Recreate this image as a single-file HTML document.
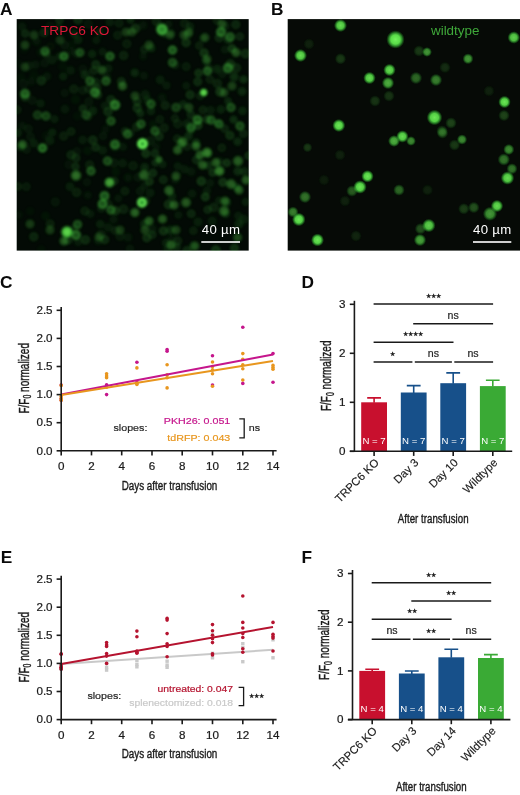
<!DOCTYPE html>
<html><head><meta charset="utf-8"><title>Figure</title>
<style>
html,body{margin:0;padding:0;background:#fff;}
svg{display:block}
text{font-family:"Liberation Sans", sans-serif;}
</style></head><body>
<svg width="520" height="795" viewBox="0 0 520 795">
<defs>
<radialGradient id="gs"><stop offset="0" stop-color="#72f25c" stop-opacity="1"/><stop offset="0.5" stop-color="#5be24a" stop-opacity="0.97"/><stop offset="0.72" stop-color="#3cb838" stop-opacity="0.7"/><stop offset="1" stop-color="#1a7a1a" stop-opacity="0"/></radialGradient>
<radialGradient id="gr"><stop offset="0" stop-color="#3dbb3a" stop-opacity="0.85"/><stop offset="0.4" stop-color="#46cc42" stop-opacity="0.92"/><stop offset="0.62" stop-color="#58e64e" stop-opacity="1"/><stop offset="0.82" stop-color="#2a9a28" stop-opacity="0.5"/><stop offset="1" stop-color="#1a7a1a" stop-opacity="0"/></radialGradient>
<radialGradient id="gb"><stop offset="0" stop-color="#239028" stop-opacity="1"/><stop offset="0.14" stop-color="#2fa832" stop-opacity="1"/><stop offset="0.34" stop-color="#5de84f" stop-opacity="1"/><stop offset="0.62" stop-color="#6cf25a" stop-opacity="1"/><stop offset="0.8" stop-color="#36b234" stop-opacity="0.6"/><stop offset="1" stop-color="#1a7a1a" stop-opacity="0"/></radialGradient>
<radialGradient id="gd"><stop offset="0" stop-color="#3cc83c" stop-opacity="0.9"/><stop offset="0.6" stop-color="#36b836" stop-opacity="0.8"/><stop offset="1" stop-color="#1a7a1a" stop-opacity="0"/></radialGradient>
<clipPath id="ca"><rect x="16.7" y="19.1" width="232" height="231.5"/></clipPath>
<clipPath id="cb"><rect x="287.7" y="19.1" width="232.3" height="231.5"/></clipPath>
<filter id="bl" x="-20%" y="-20%" width="140%" height="140%"><feGaussianBlur stdDeviation="0.9"/></filter>
<filter id="bl2" x="-20%" y="-20%" width="140%" height="140%"><feGaussianBlur stdDeviation="0.7"/></filter>
</defs>
<rect width="520" height="795" fill="#fff"/>

<text x="0" y="14.5" font-size="17.3" font-weight="bold" fill="#0a0a0a">A</text>
<text x="270.9" y="14.5" font-size="17.3" font-weight="bold" fill="#0a0a0a">B</text>
<text x="0.1" y="288" font-size="17.3" font-weight="bold" fill="#0a0a0a">C</text>
<text x="301.5" y="287.8" font-size="17.3" font-weight="bold" fill="#0a0a0a">D</text>
<text x="0.7" y="563" font-size="17.3" font-weight="bold" fill="#0a0a0a">E</text>
<text x="301.5" y="563" font-size="17.3" font-weight="bold" fill="#0a0a0a">F</text>
<rect x="16.7" y="19.1" width="232" height="231.5" fill="#030a05"/>
<g clip-path="url(#ca)"><g filter="url(#bl)">
<circle cx="92.1" cy="54.0" r="5.5" fill="url(#gd)" opacity="0.17"/>
<circle cx="33.8" cy="143.3" r="5.6" fill="url(#gd)" opacity="0.14"/>
<circle cx="30.5" cy="136.7" r="5.5" fill="url(#gr)" opacity="0.07"/>
<circle cx="117.6" cy="35.2" r="5.7" fill="url(#gr)" opacity="0.10"/>
<circle cx="115.5" cy="210.8" r="5.7" fill="url(#gr)" opacity="0.18"/>
<circle cx="68.8" cy="164.6" r="5.8" fill="url(#gr)" opacity="0.05"/>
<circle cx="150.9" cy="111.0" r="5.6" fill="url(#gd)" opacity="0.15"/>
<circle cx="50.5" cy="46.3" r="5.7" fill="url(#gr)" opacity="0.04"/>
<circle cx="206.3" cy="60.9" r="5.6" fill="url(#gd)" opacity="0.21"/>
<circle cx="165.2" cy="105.4" r="5.7" fill="url(#gr)" opacity="0.13"/>
<circle cx="174.9" cy="118.2" r="5.2" fill="url(#gr)" opacity="0.11"/>
<circle cx="152.9" cy="124.1" r="5.3" fill="url(#gd)" opacity="0.07"/>
<circle cx="201.3" cy="181.2" r="5.9" fill="url(#gr)" opacity="0.21"/>
<circle cx="150.3" cy="140.8" r="5.8" fill="url(#gr)" opacity="0.09"/>
<circle cx="186.2" cy="85.8" r="5.3" fill="url(#gd)" opacity="0.11"/>
<circle cx="44.4" cy="116.0" r="5.8" fill="url(#gd)" opacity="0.04"/>
<circle cx="52.3" cy="132.4" r="5.3" fill="url(#gd)" opacity="0.15"/>
<circle cx="172.0" cy="196.4" r="5.6" fill="url(#gd)" opacity="0.16"/>
<circle cx="220.1" cy="91.8" r="6.0" fill="url(#gr)" opacity="0.21"/>
<circle cx="154.9" cy="153.5" r="5.2" fill="url(#gr)" opacity="0.16"/>
<circle cx="171.1" cy="33.1" r="5.3" fill="url(#gd)" opacity="0.16"/>
<circle cx="167.1" cy="249.4" r="5.3" fill="url(#gd)" opacity="0.12"/>
<circle cx="83.0" cy="108.5" r="5.2" fill="url(#gr)" opacity="0.16"/>
<circle cx="22.2" cy="126.1" r="5.6" fill="url(#gd)" opacity="0.08"/>
<circle cx="44.2" cy="32.7" r="5.8" fill="url(#gr)" opacity="0.13"/>
<circle cx="47.0" cy="76.4" r="5.7" fill="url(#gd)" opacity="0.09"/>
<circle cx="219.2" cy="37.7" r="5.8" fill="url(#gr)" opacity="0.15"/>
<circle cx="144.5" cy="223.9" r="5.7" fill="url(#gd)" opacity="0.19"/>
<circle cx="217.4" cy="83.6" r="6.0" fill="url(#gr)" opacity="0.13"/>
<circle cx="100.2" cy="224.1" r="5.5" fill="url(#gd)" opacity="0.15"/>
<circle cx="52.0" cy="59.9" r="5.9" fill="url(#gd)" opacity="0.12"/>
<circle cx="71.1" cy="131.5" r="5.5" fill="url(#gr)" opacity="0.12"/>
<circle cx="78.0" cy="19.9" r="5.7" fill="url(#gr)" opacity="0.16"/>
<circle cx="102.7" cy="150.4" r="5.8" fill="url(#gd)" opacity="0.13"/>
<circle cx="177.2" cy="138.6" r="5.4" fill="url(#gr)" opacity="0.12"/>
<circle cx="198.0" cy="221.9" r="5.9" fill="url(#gd)" opacity="0.14"/>
<circle cx="108.0" cy="111.6" r="5.9" fill="url(#gr)" opacity="0.17"/>
<circle cx="164.2" cy="33.4" r="5.7" fill="url(#gd)" opacity="0.18"/>
<circle cx="65.4" cy="56.7" r="5.8" fill="url(#gd)" opacity="0.08"/>
<circle cx="40.5" cy="103.4" r="5.5" fill="url(#gd)" opacity="0.13"/>
<circle cx="219.8" cy="161.5" r="5.8" fill="url(#gd)" opacity="0.10"/>
<circle cx="75.5" cy="99.6" r="5.9" fill="url(#gd)" opacity="0.07"/>
<circle cx="45.5" cy="216.0" r="5.7" fill="url(#gd)" opacity="0.07"/>
<circle cx="125.1" cy="131.2" r="5.4" fill="url(#gr)" opacity="0.12"/>
<circle cx="237.6" cy="141.6" r="5.6" fill="url(#gd)" opacity="0.19"/>
<circle cx="143.0" cy="25.3" r="5.8" fill="url(#gd)" opacity="0.08"/>
<circle cx="244.0" cy="219.3" r="5.9" fill="url(#gd)" opacity="0.13"/>
<circle cx="196.1" cy="142.6" r="5.6" fill="url(#gd)" opacity="0.20"/>
<circle cx="93.5" cy="70.7" r="5.4" fill="url(#gr)" opacity="0.13"/>
<circle cx="206.9" cy="190.7" r="5.5" fill="url(#gd)" opacity="0.11"/>
<circle cx="137.1" cy="101.5" r="5.6" fill="url(#gr)" opacity="0.14"/>
<circle cx="23.5" cy="83.8" r="6.0" fill="url(#gr)" opacity="0.05"/>
<circle cx="177.7" cy="240.9" r="5.7" fill="url(#gr)" opacity="0.13"/>
<circle cx="234.4" cy="248.2" r="5.7" fill="url(#gr)" opacity="0.20"/>
<circle cx="101.6" cy="70.1" r="5.2" fill="url(#gd)" opacity="0.10"/>
<circle cx="62.6" cy="66.4" r="5.9" fill="url(#gd)" opacity="0.05"/>
<circle cx="225.9" cy="214.0" r="5.4" fill="url(#gd)" opacity="0.16"/>
<circle cx="168.5" cy="204.5" r="6.0" fill="url(#gr)" opacity="0.18"/>
<circle cx="170.3" cy="230.1" r="6.0" fill="url(#gd)" opacity="0.18"/>
<circle cx="191.0" cy="129.9" r="5.4" fill="url(#gr)" opacity="0.12"/>
<circle cx="200.1" cy="96.1" r="5.2" fill="url(#gr)" opacity="0.11"/>
<circle cx="242.4" cy="110.8" r="5.6" fill="url(#gd)" opacity="0.17"/>
<circle cx="236.7" cy="187.2" r="5.3" fill="url(#gd)" opacity="0.22"/>
<circle cx="46.5" cy="54.1" r="5.3" fill="url(#gr)" opacity="0.12"/>
<circle cx="204.1" cy="52.9" r="5.7" fill="url(#gr)" opacity="0.21"/>
<circle cx="244.4" cy="171.5" r="5.7" fill="url(#gd)" opacity="0.18"/>
<circle cx="144.3" cy="49.4" r="5.3" fill="url(#gr)" opacity="0.12"/>
<circle cx="233.6" cy="119.6" r="5.4" fill="url(#gd)" opacity="0.22"/>
<circle cx="208.7" cy="68.0" r="5.5" fill="url(#gr)" opacity="0.09"/>
<circle cx="85.0" cy="74.8" r="5.9" fill="url(#gd)" opacity="0.17"/>
<circle cx="77.2" cy="116.2" r="5.8" fill="url(#gd)" opacity="0.05"/>
<circle cx="228.1" cy="101.1" r="5.2" fill="url(#gd)" opacity="0.18"/>
<circle cx="152.3" cy="228.8" r="6.0" fill="url(#gd)" opacity="0.09"/>
<circle cx="229.9" cy="135.4" r="5.7" fill="url(#gr)" opacity="0.18"/>
<circle cx="59.5" cy="19.9" r="5.5" fill="url(#gr)" opacity="0.14"/>
<circle cx="145.9" cy="201.0" r="5.6" fill="url(#gr)" opacity="0.10"/>
<circle cx="193.3" cy="230.7" r="5.3" fill="url(#gr)" opacity="0.11"/>
<circle cx="159.1" cy="136.3" r="5.8" fill="url(#gr)" opacity="0.16"/>
<circle cx="177.7" cy="123.9" r="5.9" fill="url(#gr)" opacity="0.10"/>
<circle cx="127.9" cy="237.4" r="5.9" fill="url(#gd)" opacity="0.09"/>
<circle cx="146.8" cy="237.8" r="5.6" fill="url(#gr)" opacity="0.18"/>
<circle cx="33.8" cy="74.8" r="5.9" fill="url(#gd)" opacity="0.05"/>
<circle cx="50.2" cy="223.8" r="5.5" fill="url(#gr)" opacity="0.12"/>
<circle cx="67.9" cy="240.0" r="5.7" fill="url(#gr)" opacity="0.15"/>
<circle cx="130.0" cy="248.7" r="5.2" fill="url(#gr)" opacity="0.08"/>
<circle cx="54.5" cy="119.1" r="5.3" fill="url(#gd)" opacity="0.13"/>
<circle cx="95.7" cy="64.4" r="5.5" fill="url(#gr)" opacity="0.17"/>
<circle cx="184.5" cy="23.5" r="5.9" fill="url(#gr)" opacity="0.10"/>
<circle cx="119.2" cy="23.2" r="5.6" fill="url(#gr)" opacity="0.10"/>
<circle cx="245.5" cy="201.9" r="5.3" fill="url(#gd)" opacity="0.14"/>
<circle cx="41.3" cy="80.6" r="5.9" fill="url(#gr)" opacity="0.16"/>
<circle cx="197.7" cy="81.7" r="5.6" fill="url(#gr)" opacity="0.17"/>
<circle cx="115.0" cy="230.4" r="5.4" fill="url(#gr)" opacity="0.10"/>
<circle cx="77.0" cy="53.7" r="6.0" fill="url(#gd)" opacity="0.10"/>
<circle cx="149.4" cy="181.5" r="5.4" fill="url(#gr)" opacity="0.19"/>
<circle cx="33.8" cy="236.7" r="5.8" fill="url(#gr)" opacity="0.15"/>
<circle cx="203.0" cy="38.4" r="5.2" fill="url(#gd)" opacity="0.12"/>
<circle cx="95.7" cy="147.3" r="5.3" fill="url(#gr)" opacity="0.16"/>
<circle cx="72.3" cy="44.4" r="5.6" fill="url(#gd)" opacity="0.05"/>
<circle cx="28.7" cy="65.8" r="5.9" fill="url(#gr)" opacity="0.06"/>
<circle cx="87.8" cy="195.2" r="5.3" fill="url(#gd)" opacity="0.08"/>
<circle cx="21.2" cy="77.1" r="5.8" fill="url(#gd)" opacity="0.05"/>
<circle cx="187.1" cy="146.8" r="5.3" fill="url(#gr)" opacity="0.11"/>
<circle cx="207.0" cy="119.3" r="5.4" fill="url(#gr)" opacity="0.17"/>
<circle cx="210.6" cy="110.2" r="5.8" fill="url(#gd)" opacity="0.12"/>
<circle cx="176.6" cy="246.9" r="5.4" fill="url(#gd)" opacity="0.18"/>
<circle cx="210.1" cy="183.0" r="5.5" fill="url(#gd)" opacity="0.10"/>
<circle cx="110.9" cy="99.6" r="5.8" fill="url(#gr)" opacity="0.15"/>
<circle cx="212.2" cy="221.0" r="5.9" fill="url(#gd)" opacity="0.13"/>
<circle cx="123.6" cy="55.5" r="5.9" fill="url(#gr)" opacity="0.13"/>
<circle cx="78.1" cy="242.1" r="5.4" fill="url(#gd)" opacity="0.11"/>
<circle cx="143.9" cy="75.7" r="5.5" fill="url(#gd)" opacity="0.09"/>
<circle cx="88.8" cy="101.7" r="5.7" fill="url(#gr)" opacity="0.07"/>
<circle cx="105.5" cy="129.1" r="5.6" fill="url(#gd)" opacity="0.06"/>
<circle cx="63.6" cy="136.1" r="5.8" fill="url(#gr)" opacity="0.11"/>
<circle cx="78.3" cy="39.8" r="5.5" fill="url(#gd)" opacity="0.15"/>
<circle cx="71.0" cy="154.9" r="5.8" fill="url(#gr)" opacity="0.14"/>
<circle cx="191.1" cy="171.6" r="6.0" fill="url(#gd)" opacity="0.09"/>
<circle cx="220.9" cy="109.4" r="5.6" fill="url(#gd)" opacity="0.16"/>
<circle cx="245.5" cy="53.7" r="6.0" fill="url(#gr)" opacity="0.17"/>
<circle cx="134.0" cy="212.7" r="5.3" fill="url(#gr)" opacity="0.09"/>
<circle cx="208.7" cy="154.5" r="5.2" fill="url(#gd)" opacity="0.12"/>
<circle cx="175.4" cy="179.9" r="5.4" fill="url(#gd)" opacity="0.09"/>
<circle cx="24.2" cy="49.9" r="5.7" fill="url(#gd)" opacity="0.03"/>
<circle cx="162.6" cy="164.3" r="5.3" fill="url(#gd)" opacity="0.14"/>
<circle cx="130.5" cy="19.8" r="5.2" fill="url(#gd)" opacity="0.18"/>
<circle cx="186.2" cy="66.6" r="5.6" fill="url(#gr)" opacity="0.10"/>
<circle cx="243.4" cy="133.6" r="5.5" fill="url(#gr)" opacity="0.13"/>
<circle cx="128.1" cy="177.6" r="5.9" fill="url(#gd)" opacity="0.08"/>
<circle cx="87.6" cy="150.7" r="5.8" fill="url(#gd)" opacity="0.07"/>
<circle cx="31.1" cy="81.4" r="6.0" fill="url(#gd)" opacity="0.06"/>
<circle cx="136.8" cy="126.8" r="5.9" fill="url(#gr)" opacity="0.12"/>
<circle cx="123.5" cy="209.2" r="6.0" fill="url(#gr)" opacity="0.13"/>
<circle cx="121.3" cy="81.3" r="5.4" fill="url(#gr)" opacity="0.16"/>
<circle cx="236.4" cy="67.9" r="6.0" fill="url(#gr)" opacity="0.14"/>
<circle cx="49.9" cy="140.6" r="5.9" fill="url(#gd)" opacity="0.14"/>
<circle cx="222.8" cy="182.2" r="5.6" fill="url(#gr)" opacity="0.20"/>
<circle cx="17.8" cy="133.1" r="5.4" fill="url(#gd)" opacity="0.15"/>
<circle cx="90.3" cy="213.9" r="5.5" fill="url(#gd)" opacity="0.11"/>
<circle cx="191.2" cy="213.7" r="5.5" fill="url(#gr)" opacity="0.15"/>
<circle cx="248.7" cy="155.7" r="5.3" fill="url(#gr)" opacity="0.17"/>
<circle cx="234.1" cy="76.8" r="5.9" fill="url(#gd)" opacity="0.22"/>
<circle cx="238.8" cy="224.1" r="5.9" fill="url(#gd)" opacity="0.18"/>
<circle cx="163.4" cy="230.9" r="5.7" fill="url(#gr)" opacity="0.19"/>
<circle cx="144.4" cy="185.9" r="5.4" fill="url(#gd)" opacity="0.10"/>
<circle cx="186.9" cy="123.6" r="5.7" fill="url(#gd)" opacity="0.15"/>
<circle cx="166.5" cy="85.4" r="5.5" fill="url(#gd)" opacity="0.11"/>
<circle cx="232.0" cy="48.5" r="5.4" fill="url(#gr)" opacity="0.22"/>
<circle cx="96.7" cy="88.1" r="5.7" fill="url(#gr)" opacity="0.14"/>
<circle cx="243.5" cy="79.4" r="5.4" fill="url(#gd)" opacity="0.22"/>
<circle cx="96.3" cy="40.1" r="5.3" fill="url(#gd)" opacity="0.11"/>
<circle cx="76.9" cy="151.2" r="5.4" fill="url(#gr)" opacity="0.06"/>
<circle cx="190.9" cy="114.8" r="5.4" fill="url(#gr)" opacity="0.14"/>
<circle cx="46.2" cy="135.8" r="5.9" fill="url(#gd)" opacity="0.05"/>
<circle cx="217.2" cy="69.1" r="5.7" fill="url(#gd)" opacity="0.17"/>
<circle cx="238.3" cy="215.9" r="5.6" fill="url(#gd)" opacity="0.12"/>
<circle cx="22.1" cy="26.5" r="5.6" fill="url(#gd)" opacity="0.10"/>
<circle cx="224.8" cy="128.8" r="5.4" fill="url(#gr)" opacity="0.13"/>
<circle cx="17.0" cy="109.8" r="5.7" fill="url(#gr)" opacity="0.10"/>
<circle cx="138.2" cy="177.2" r="5.9" fill="url(#gr)" opacity="0.07"/>
<circle cx="184.4" cy="169.2" r="5.6" fill="url(#gd)" opacity="0.11"/>
<circle cx="123.1" cy="146.9" r="5.4" fill="url(#gd)" opacity="0.10"/>
<circle cx="198.5" cy="73.0" r="5.3" fill="url(#gr)" opacity="0.19"/>
<circle cx="75.4" cy="166.6" r="5.2" fill="url(#gr)" opacity="0.16"/>
<circle cx="156.4" cy="21.4" r="5.8" fill="url(#gr)" opacity="0.12"/>
<circle cx="88.3" cy="24.1" r="6.0" fill="url(#gr)" opacity="0.07"/>
<circle cx="24.9" cy="97.4" r="5.5" fill="url(#gr)" opacity="0.13"/>
<circle cx="175.4" cy="65.0" r="5.7" fill="url(#gd)" opacity="0.12"/>
<circle cx="188.5" cy="136.1" r="5.6" fill="url(#gd)" opacity="0.19"/>
<circle cx="242.0" cy="91.3" r="5.8" fill="url(#gd)" opacity="0.19"/>
<circle cx="70.5" cy="70.4" r="5.8" fill="url(#gd)" opacity="0.11"/>
<circle cx="85.4" cy="239.8" r="5.9" fill="url(#gr)" opacity="0.17"/>
<circle cx="171.3" cy="239.1" r="5.7" fill="url(#gd)" opacity="0.08"/>
<circle cx="108.3" cy="68.4" r="5.7" fill="url(#gd)" opacity="0.12"/>
<circle cx="108.3" cy="227.4" r="5.9" fill="url(#gd)" opacity="0.11"/>
<circle cx="187.0" cy="250.4" r="5.6" fill="url(#gr)" opacity="0.16"/>
<circle cx="190.1" cy="26.4" r="5.4" fill="url(#gd)" opacity="0.14"/>
<circle cx="104.8" cy="105.7" r="5.5" fill="url(#gd)" opacity="0.11"/>
<circle cx="98.5" cy="240.7" r="5.9" fill="url(#gd)" opacity="0.10"/>
<circle cx="207.6" cy="209.7" r="5.3" fill="url(#gr)" opacity="0.15"/>
<circle cx="28.4" cy="128.8" r="5.7" fill="url(#gr)" opacity="0.07"/>
<circle cx="230.3" cy="63.8" r="5.9" fill="url(#gr)" opacity="0.17"/>
<circle cx="225.1" cy="26.0" r="5.9" fill="url(#gd)" opacity="0.13"/>
<circle cx="205.3" cy="196.9" r="5.5" fill="url(#gr)" opacity="0.21"/>
<circle cx="25.1" cy="33.5" r="5.2" fill="url(#gr)" opacity="0.15"/>
<circle cx="76.6" cy="192.4" r="5.9" fill="url(#gr)" opacity="0.12"/>
<circle cx="95.7" cy="82.2" r="6.0" fill="url(#gd)" opacity="0.15"/>
<circle cx="160.1" cy="79.8" r="5.7" fill="url(#gd)" opacity="0.14"/>
<circle cx="235.8" cy="24.6" r="5.7" fill="url(#gr)" opacity="0.15"/>
<circle cx="106.7" cy="77.2" r="5.7" fill="url(#gd)" opacity="0.10"/>
<circle cx="196.3" cy="159.9" r="5.5" fill="url(#gr)" opacity="0.15"/>
<circle cx="35.3" cy="64.8" r="5.7" fill="url(#gd)" opacity="0.09"/>
<circle cx="74.4" cy="34.0" r="5.6" fill="url(#gd)" opacity="0.16"/>
<circle cx="145.2" cy="94.6" r="6.0" fill="url(#gd)" opacity="0.13"/>
<circle cx="36.5" cy="41.4" r="5.9" fill="url(#gd)" opacity="0.08"/>
<circle cx="113.7" cy="162.9" r="6.0" fill="url(#gr)" opacity="0.08"/>
<circle cx="63.2" cy="76.4" r="5.3" fill="url(#gd)" opacity="0.15"/>
<circle cx="92.7" cy="110.9" r="5.9" fill="url(#gd)" opacity="0.17"/>
<circle cx="134.7" cy="72.7" r="5.5" fill="url(#gd)" opacity="0.19"/>
<circle cx="44.7" cy="63.0" r="5.6" fill="url(#gr)" opacity="0.06"/>
<circle cx="152.3" cy="234.8" r="5.3" fill="url(#gr)" opacity="0.14"/>
<circle cx="217.9" cy="123.2" r="5.5" fill="url(#gd)" opacity="0.17"/>
<circle cx="155.3" cy="162.8" r="5.2" fill="url(#gd)" opacity="0.20"/>
<circle cx="102.5" cy="51.8" r="5.4" fill="url(#gd)" opacity="0.11"/>
<circle cx="76.1" cy="158.1" r="5.4" fill="url(#gr)" opacity="0.14"/>
<circle cx="144.6" cy="167.3" r="5.7" fill="url(#gd)" opacity="0.18"/>
<circle cx="82.7" cy="90.4" r="5.6" fill="url(#gr)" opacity="0.08"/>
<circle cx="113.6" cy="219.5" r="5.6" fill="url(#gd)" opacity="0.09"/>
<circle cx="20.4" cy="147.0" r="5.5" fill="url(#gd)" opacity="0.16"/>
<circle cx="228.1" cy="39.7" r="5.8" fill="url(#gr)" opacity="0.11"/>
<circle cx="103.0" cy="136.0" r="5.3" fill="url(#gr)" opacity="0.07"/>
<circle cx="82.7" cy="139.9" r="5.7" fill="url(#gd)" opacity="0.12"/>
<circle cx="226.8" cy="162.9" r="5.2" fill="url(#gr)" opacity="0.20"/>
<circle cx="137.2" cy="108.0" r="5.8" fill="url(#gr)" opacity="0.17"/>
<circle cx="26.5" cy="149.5" r="5.4" fill="url(#gr)" opacity="0.08"/>
<circle cx="156.1" cy="146.6" r="5.7" fill="url(#gd)" opacity="0.08"/>
<circle cx="88.0" cy="116.5" r="5.5" fill="url(#gr)" opacity="0.10"/>
<circle cx="115.8" cy="171.9" r="5.7" fill="url(#gd)" opacity="0.07"/>
<circle cx="198.0" cy="125.3" r="5.7" fill="url(#gr)" opacity="0.21"/>
<circle cx="126.8" cy="43.8" r="5.9" fill="url(#gr)" opacity="0.10"/>
<circle cx="135.4" cy="28.5" r="5.9" fill="url(#gr)" opacity="0.18"/>
<circle cx="104.7" cy="239.6" r="5.7" fill="url(#gr)" opacity="0.16"/>
<circle cx="215.8" cy="250.1" r="6.0" fill="url(#gr)" opacity="0.21"/>
<circle cx="55.3" cy="201.9" r="5.8" fill="url(#gr)" opacity="0.07"/>
<circle cx="32.2" cy="100.4" r="5.9" fill="url(#gr)" opacity="0.06"/>
<circle cx="59.2" cy="56.4" r="5.4" fill="url(#gd)" opacity="0.11"/>
<circle cx="199.1" cy="45.7" r="5.3" fill="url(#gr)" opacity="0.11"/>
<circle cx="145.8" cy="153.6" r="5.6" fill="url(#gr)" opacity="0.20"/>
<circle cx="41.3" cy="249.4" r="5.5" fill="url(#gd)" opacity="0.05"/>
<circle cx="108.5" cy="204.1" r="5.3" fill="url(#gr)" opacity="0.11"/>
<circle cx="152.9" cy="173.0" r="5.4" fill="url(#gr)" opacity="0.18"/>
<circle cx="159.9" cy="119.3" r="5.4" fill="url(#gr)" opacity="0.10"/>
<circle cx="224.8" cy="49.6" r="5.5" fill="url(#gd)" opacity="0.10"/>
<circle cx="168.5" cy="24.2" r="5.3" fill="url(#gd)" opacity="0.10"/>
<circle cx="219.1" cy="200.5" r="5.3" fill="url(#gd)" opacity="0.13"/>
<circle cx="147.5" cy="100.3" r="5.8" fill="url(#gd)" opacity="0.13"/>
<circle cx="120.0" cy="236.4" r="5.8" fill="url(#gr)" opacity="0.08"/>
<circle cx="74.7" cy="228.6" r="5.4" fill="url(#gd)" opacity="0.10"/>
<circle cx="140.3" cy="113.2" r="5.4" fill="url(#gd)" opacity="0.19"/>
<circle cx="88.8" cy="88.7" r="5.8" fill="url(#gr)" opacity="0.11"/>
<circle cx="18.5" cy="214.9" r="5.7" fill="url(#gd)" opacity="0.06"/>
<circle cx="124.9" cy="191.1" r="5.7" fill="url(#gr)" opacity="0.11"/>
<circle cx="178.3" cy="215.1" r="5.3" fill="url(#gd)" opacity="0.11"/>
<circle cx="165.9" cy="242.9" r="5.4" fill="url(#gd)" opacity="0.14"/>
<circle cx="190.1" cy="94.8" r="5.7" fill="url(#gr)" opacity="0.18"/>
<circle cx="163.3" cy="179.7" r="5.5" fill="url(#gr)" opacity="0.15"/>
<circle cx="49.9" cy="25.7" r="5.9" fill="url(#gr)" opacity="0.05"/>
<circle cx="177.7" cy="166.1" r="5.3" fill="url(#gd)" opacity="0.12"/>
<circle cx="187.9" cy="34.3" r="5.6" fill="url(#gr)" opacity="0.15"/>
<circle cx="101.3" cy="208.7" r="5.4" fill="url(#gr)" opacity="0.09"/>
<circle cx="64.7" cy="45.0" r="5.8" fill="url(#gr)" opacity="0.07"/>
<circle cx="213.7" cy="207.4" r="5.9" fill="url(#gr)" opacity="0.13"/>
<circle cx="208.4" cy="165.5" r="5.9" fill="url(#gd)" opacity="0.19"/>
<circle cx="64.6" cy="93.0" r="5.2" fill="url(#gr)" opacity="0.06"/>
<circle cx="183.1" cy="104.4" r="5.5" fill="url(#gd)" opacity="0.17"/>
<circle cx="160.4" cy="26.2" r="5.8" fill="url(#gd)" opacity="0.13"/>
<circle cx="118.3" cy="198.3" r="5.5" fill="url(#gd)" opacity="0.09"/>
<circle cx="180.5" cy="143.8" r="5.3" fill="url(#gr)" opacity="0.16"/>
<circle cx="193.8" cy="245.9" r="5.8" fill="url(#gd)" opacity="0.20"/>
<circle cx="130.9" cy="133.0" r="5.3" fill="url(#gr)" opacity="0.07"/>
<circle cx="210.0" cy="79.5" r="5.5" fill="url(#gr)" opacity="0.11"/>
<circle cx="82.8" cy="68.8" r="5.7" fill="url(#gr)" opacity="0.05"/>
<circle cx="192.0" cy="193.7" r="5.7" fill="url(#gd)" opacity="0.11"/>
<circle cx="97.8" cy="94.8" r="5.5" fill="url(#gr)" opacity="0.15"/>
<circle cx="212.6" cy="172.6" r="5.2" fill="url(#gr)" opacity="0.18"/>
<circle cx="151.4" cy="48.2" r="5.4" fill="url(#gd)" opacity="0.18"/>
<circle cx="222.3" cy="74.2" r="5.7" fill="url(#gd)" opacity="0.10"/>
<circle cx="86.9" cy="182.1" r="5.3" fill="url(#gr)" opacity="0.06"/>
<circle cx="92.8" cy="140.1" r="5.9" fill="url(#gr)" opacity="0.16"/>
<circle cx="186.1" cy="42.6" r="5.8" fill="url(#gr)" opacity="0.18"/>
<circle cx="64.9" cy="109.1" r="5.9" fill="url(#gd)" opacity="0.10"/>
<circle cx="133.1" cy="165.7" r="6.0" fill="url(#gr)" opacity="0.10"/>
<circle cx="150.2" cy="192.8" r="5.8" fill="url(#gd)" opacity="0.13"/>
<circle cx="70.0" cy="186.6" r="5.7" fill="url(#gd)" opacity="0.14"/>
<circle cx="89.6" cy="164.8" r="5.8" fill="url(#gr)" opacity="0.11"/>
<circle cx="122.6" cy="163.2" r="5.9" fill="url(#gd)" opacity="0.12"/>
<circle cx="143.1" cy="56.3" r="5.2" fill="url(#gd)" opacity="0.08"/>
<circle cx="99.5" cy="32.1" r="5.4" fill="url(#gd)" opacity="0.15"/>
<circle cx="109.7" cy="22.1" r="5.7" fill="url(#gd)" opacity="0.13"/>
<circle cx="114.6" cy="181.0" r="5.2" fill="url(#gr)" opacity="0.13"/>
<circle cx="202.9" cy="109.9" r="5.4" fill="url(#gr)" opacity="0.13"/>
<circle cx="164.2" cy="127.8" r="5.8" fill="url(#gr)" opacity="0.11"/>
<circle cx="17.6" cy="186.5" r="5.4" fill="url(#gr)" opacity="0.12"/>
<circle cx="73.8" cy="89.0" r="5.9" fill="url(#gr)" opacity="0.11"/>
<circle cx="101.1" cy="234.5" r="5.9" fill="url(#gr)" opacity="0.10"/>
<circle cx="30.2" cy="211.1" r="5.5" fill="url(#gd)" opacity="0.05"/>
<circle cx="237.8" cy="171.2" r="5.8" fill="url(#gd)" opacity="0.20"/>
<circle cx="40.6" cy="52.1" r="5.7" fill="url(#gd)" opacity="0.06"/>
<circle cx="226.7" cy="202.7" r="5.9" fill="url(#gd)" opacity="0.15"/>
<circle cx="140.1" cy="191.1" r="5.5" fill="url(#gr)" opacity="0.08"/>
<circle cx="221.8" cy="147.8" r="5.4" fill="url(#gr)" opacity="0.12"/>
<circle cx="71.3" cy="51.3" r="5.6" fill="url(#gd)" opacity="0.07"/>
<circle cx="217.2" cy="20.5" r="5.6" fill="url(#gr)" opacity="0.11"/>
<circle cx="239.9" cy="36.5" r="5.3" fill="url(#gr)" opacity="0.14"/>
<circle cx="162.1" cy="97.6" r="5.8" fill="url(#gd)" opacity="0.08"/>
<circle cx="115.0" cy="147.5" r="6.0" fill="url(#gd)" opacity="0.07"/>
<circle cx="84.9" cy="211.0" r="5.6" fill="url(#gr)" opacity="0.12"/>
<circle cx="26.3" cy="186.7" r="5.6" fill="url(#gr)" opacity="0.09"/>
<circle cx="18.4" cy="63.1" r="5.7" fill="url(#gd)" opacity="0.03"/>
<circle cx="59.1" cy="27.6" r="5.7" fill="url(#gd)" opacity="0.12"/>
<circle cx="45" cy="51.3" r="5.85" fill="url(#gr)" opacity="0.36"/>
<circle cx="63.8" cy="56.3" r="5.85" fill="url(#gr)" opacity="0.40"/>
<circle cx="80" cy="52.5" r="5.59" fill="url(#gr)" opacity="0.32"/>
<circle cx="110" cy="56.3" r="5.85" fill="url(#gr)" opacity="0.40"/>
<circle cx="25" cy="45" r="5.85" fill="url(#gs)" opacity="0.22"/>
<circle cx="34" cy="35" r="5.85" fill="url(#gs)" opacity="0.20"/>
<circle cx="90" cy="81" r="5.85" fill="url(#gr)" opacity="0.34"/>
<circle cx="106" cy="81" r="5.85" fill="url(#gr)" opacity="0.34"/>
<circle cx="95" cy="92.5" r="6.24" fill="url(#gr)" opacity="0.44"/>
<circle cx="122.5" cy="86" r="5.85" fill="url(#gs)" opacity="0.34"/>
<circle cx="25" cy="93.8" r="6.24" fill="url(#gr)" opacity="0.44"/>
<circle cx="115" cy="105" r="6.50" fill="url(#gr)" opacity="0.52"/>
<circle cx="37.5" cy="115" r="5.85" fill="url(#gr)" opacity="0.24"/>
<circle cx="46" cy="116" r="5.85" fill="url(#gr)" opacity="0.28"/>
<circle cx="86" cy="115" r="5.85" fill="url(#gr)" opacity="0.24"/>
<circle cx="111" cy="121" r="5.85" fill="url(#gr)" opacity="0.34"/>
<circle cx="102" cy="70" r="5.85" fill="url(#gs)" opacity="0.22"/>
<circle cx="25" cy="67" r="5.85" fill="url(#gs)" opacity="0.20"/>
<circle cx="126" cy="32" r="5.85" fill="url(#gs)" opacity="0.22"/>
<circle cx="60" cy="40" r="5.85" fill="url(#gs)" opacity="0.18"/>
<circle cx="162" cy="29.5" r="7.15" fill="url(#gr)" opacity="0.71"/>
<circle cx="221" cy="32" r="6.24" fill="url(#gr)" opacity="0.44"/>
<circle cx="230" cy="37" r="6.24" fill="url(#gr)" opacity="0.36"/>
<circle cx="172.5" cy="50" r="5.85" fill="url(#gr)" opacity="0.44"/>
<circle cx="172.5" cy="62.5" r="5.85" fill="url(#gr)" opacity="0.32"/>
<circle cx="207.5" cy="71" r="5.85" fill="url(#gr)" opacity="0.36"/>
<circle cx="228" cy="68" r="6.50" fill="url(#gr)" opacity="0.44"/>
<circle cx="203.7" cy="92.5" r="4.94" fill="url(#gs)" opacity="0.90"/>
<circle cx="236" cy="52.5" r="5.85" fill="url(#gs)" opacity="0.32"/>
<circle cx="222" cy="24" r="5.85" fill="url(#gs)" opacity="0.24"/>
<circle cx="205" cy="37.5" r="5.85" fill="url(#gs)" opacity="0.24"/>
<circle cx="184" cy="35" r="5.85" fill="url(#gs)" opacity="0.24"/>
<circle cx="189" cy="32" r="5.85" fill="url(#gs)" opacity="0.22"/>
<circle cx="151" cy="104" r="5.85" fill="url(#gr)" opacity="0.34"/>
<circle cx="197.5" cy="120" r="6.24" fill="url(#gr)" opacity="0.44"/>
<circle cx="191" cy="127.5" r="5.85" fill="url(#gr)" opacity="0.34"/>
<circle cx="211" cy="120" r="5.85" fill="url(#gr)" opacity="0.34"/>
<circle cx="219" cy="124" r="5.85" fill="url(#gr)" opacity="0.32"/>
<circle cx="231" cy="107.5" r="5.85" fill="url(#gr)" opacity="0.34"/>
<circle cx="240" cy="126" r="5.85" fill="url(#gr)" opacity="0.34"/>
<circle cx="176" cy="107.5" r="5.85" fill="url(#gr)" opacity="0.28"/>
<circle cx="189" cy="107.5" r="5.85" fill="url(#gs)" opacity="0.24"/>
<circle cx="141" cy="124" r="5.85" fill="url(#gr)" opacity="0.34"/>
<circle cx="155" cy="131" r="5.85" fill="url(#gr)" opacity="0.34"/>
<circle cx="135" cy="96" r="5.85" fill="url(#gs)" opacity="0.24"/>
<circle cx="149" cy="45" r="5.85" fill="url(#gs)" opacity="0.24"/>
<circle cx="170" cy="35" r="5.85" fill="url(#gs)" opacity="0.24"/>
<circle cx="132" cy="32" r="5.85" fill="url(#gs)" opacity="0.22"/>
<circle cx="207" cy="59" r="5.85" fill="url(#gs)" opacity="0.22"/>
<circle cx="224" cy="92.5" r="5.85" fill="url(#gs)" opacity="0.24"/>
<circle cx="232" cy="86" r="5.85" fill="url(#gs)" opacity="0.24"/>
<circle cx="42.5" cy="148" r="5.85" fill="url(#gr)" opacity="0.48"/>
<circle cx="22.5" cy="144.5" r="5.85" fill="url(#gs)" opacity="0.34"/>
<circle cx="115" cy="144.5" r="6.24" fill="url(#gr)" opacity="0.44"/>
<circle cx="127.5" cy="134" r="5.85" fill="url(#gr)" opacity="0.34"/>
<circle cx="107.5" cy="161" r="5.85" fill="url(#gr)" opacity="0.34"/>
<circle cx="91" cy="171" r="5.85" fill="url(#gr)" opacity="0.36"/>
<circle cx="76" cy="175.5" r="6.50" fill="url(#gs)" opacity="0.44"/>
<circle cx="109.5" cy="182.5" r="6.24" fill="url(#gs)" opacity="0.66"/>
<circle cx="104.5" cy="196" r="6.24" fill="url(#gr)" opacity="0.44"/>
<circle cx="102.5" cy="204" r="6.24" fill="url(#gr)" opacity="0.44"/>
<circle cx="111" cy="210" r="5.85" fill="url(#gr)" opacity="0.34"/>
<circle cx="67" cy="232" r="7.15" fill="url(#gs)" opacity="0.90"/>
<circle cx="76" cy="235" r="6.24" fill="url(#gr)" opacity="0.44"/>
<circle cx="77.5" cy="224.5" r="5.85" fill="url(#gr)" opacity="0.34"/>
<circle cx="30" cy="224" r="5.85" fill="url(#gs)" opacity="0.22"/>
<circle cx="50" cy="230" r="5.85" fill="url(#gs)" opacity="0.22"/>
<circle cx="64" cy="241" r="5.85" fill="url(#gs)" opacity="0.34"/>
<circle cx="120" cy="230" r="5.85" fill="url(#gs)" opacity="0.22"/>
<circle cx="99" cy="237" r="5.85" fill="url(#gs)" opacity="0.22"/>
<circle cx="142.5" cy="143.8" r="6.89" fill="url(#gb)" opacity="0.95"/>
<circle cx="142" cy="202.5" r="6.50" fill="url(#gb)" opacity="0.85"/>
<circle cx="207" cy="152.5" r="6.24" fill="url(#gs)" opacity="0.48"/>
<circle cx="219.5" cy="171" r="6.24" fill="url(#gs)" opacity="0.48"/>
<circle cx="182.5" cy="142" r="6.24" fill="url(#gs)" opacity="0.38"/>
<circle cx="238" cy="161" r="6.50" fill="url(#gs)" opacity="0.36"/>
<circle cx="196" cy="146" r="5.85" fill="url(#gs)" opacity="0.34"/>
<circle cx="200" cy="155" r="5.85" fill="url(#gs)" opacity="0.34"/>
<circle cx="159" cy="159.5" r="4.55" fill="url(#gs)" opacity="0.36"/>
<circle cx="144" cy="175" r="6.50" fill="url(#gs)" opacity="0.36"/>
<circle cx="169" cy="190.5" r="6.24" fill="url(#gs)" opacity="0.36"/>
<circle cx="231" cy="184" r="6.24" fill="url(#gs)" opacity="0.36"/>
<circle cx="239" cy="190" r="5.85" fill="url(#gs)" opacity="0.34"/>
<circle cx="246" cy="180" r="5.85" fill="url(#gs)" opacity="0.34"/>
<circle cx="224" cy="211" r="6.50" fill="url(#gs)" opacity="0.36"/>
<circle cx="225" cy="201" r="5.85" fill="url(#gs)" opacity="0.32"/>
<circle cx="186" cy="202.5" r="6.24" fill="url(#gs)" opacity="0.34"/>
<circle cx="174" cy="205" r="5.85" fill="url(#gs)" opacity="0.34"/>
<circle cx="162.5" cy="219" r="5.85" fill="url(#gs)" opacity="0.34"/>
<circle cx="149" cy="221" r="5.85" fill="url(#gs)" opacity="0.34"/>
<circle cx="135" cy="212.5" r="5.85" fill="url(#gs)" opacity="0.34"/>
<circle cx="145" cy="230" r="5.85" fill="url(#gs)" opacity="0.24"/>
<circle cx="176" cy="230" r="5.85" fill="url(#gs)" opacity="0.24"/>
<circle cx="171" cy="245" r="5.85" fill="url(#gs)" opacity="0.32"/>
<circle cx="177.5" cy="150" r="5.85" fill="url(#gs)" opacity="0.34"/>
<circle cx="216" cy="162.5" r="5.85" fill="url(#gs)" opacity="0.34"/>
<circle cx="202.5" cy="165" r="5.85" fill="url(#gs)" opacity="0.34"/>
<circle cx="176" cy="176" r="5.85" fill="url(#gs)" opacity="0.28"/>
<circle cx="195" cy="246" r="5.85" fill="url(#gs)" opacity="0.22"/>
<circle cx="237.5" cy="237.5" r="5.85" fill="url(#gs)" opacity="0.28"/>
</g></g>
<text x="41" y="34.5" font-size="13.7" fill="#dc1838">TRPC6 KO</text>
<rect x="201.3" y="241.2" width="38.7" height="1.6" fill="#fff"/>
<text x="221" y="233.8" font-size="13.2" fill="#fff" text-anchor="middle" letter-spacing="0.3">40 µm</text>
<rect x="287.7" y="19.1" width="232.3" height="231.5" fill="#060a06"/>
<g clip-path="url(#cb)"><g filter="url(#bl2)">
<circle cx="340.5" cy="25.5" r="6.65" fill="url(#gs)" opacity="0.90"/>
<circle cx="395.5" cy="39.5" r="9.31" fill="url(#gs)" opacity="1.00"/>
<circle cx="300.5" cy="55.5" r="6.65" fill="url(#gs)" opacity="0.90"/>
<circle cx="389.5" cy="70" r="6.38" fill="url(#gs)" opacity="0.90"/>
<circle cx="369.5" cy="78" r="6.38" fill="url(#gs)" opacity="0.90"/>
<circle cx="388" cy="83" r="6.38" fill="url(#gs)" opacity="0.70"/>
<circle cx="338.8" cy="125.5" r="6.65" fill="url(#gs)" opacity="0.95"/>
<circle cx="340.5" cy="58.8" r="5.99" fill="url(#gs)" opacity="0.20"/>
<circle cx="375" cy="101" r="5.99" fill="url(#gs)" opacity="0.18"/>
<circle cx="309" cy="44" r="5.99" fill="url(#gs)" opacity="0.10"/>
<circle cx="389" cy="96" r="5.99" fill="url(#gs)" opacity="0.18"/>
<circle cx="513.8" cy="37.5" r="6.38" fill="url(#gs)" opacity="0.85"/>
<circle cx="427" cy="52" r="5.05" fill="url(#gs)" opacity="0.60"/>
<circle cx="468" cy="58.8" r="5.59" fill="url(#gs)" opacity="0.60"/>
<circle cx="436" cy="80" r="6.38" fill="url(#gs)" opacity="0.50"/>
<circle cx="416" cy="78" r="6.38" fill="url(#gs)" opacity="0.40"/>
<circle cx="445" cy="67.5" r="5.99" fill="url(#gs)" opacity="0.15"/>
<circle cx="504.5" cy="102" r="6.38" fill="url(#gs)" opacity="0.95"/>
<circle cx="434.5" cy="117.5" r="7.98" fill="url(#gs)" opacity="0.95"/>
<circle cx="504" cy="115.5" r="5.99" fill="url(#gs)" opacity="0.25"/>
<circle cx="451" cy="123" r="5.99" fill="url(#gs)" opacity="0.25"/>
<circle cx="442" cy="131" r="5.99" fill="url(#gs)" opacity="0.25"/>
<circle cx="489" cy="91" r="5.99" fill="url(#gs)" opacity="0.10"/>
<circle cx="419" cy="51" r="5.99" fill="url(#gs)" opacity="0.20"/>
<circle cx="367.5" cy="176.3" r="6.38" fill="url(#gs)" opacity="0.95"/>
<circle cx="360" cy="187" r="6.92" fill="url(#gs)" opacity="0.95"/>
<circle cx="352" cy="191" r="5.99" fill="url(#gs)" opacity="0.35"/>
<circle cx="305" cy="197" r="6.38" fill="url(#gs)" opacity="0.45"/>
<circle cx="293" cy="212" r="5.72" fill="url(#gs)" opacity="0.50"/>
<circle cx="298.8" cy="219.5" r="6.92" fill="url(#gs)" opacity="0.95"/>
<circle cx="317.5" cy="240" r="6.65" fill="url(#gs)" opacity="0.95"/>
<circle cx="307.5" cy="147.5" r="5.05" fill="url(#gs)" opacity="0.20"/>
<circle cx="340" cy="155" r="5.99" fill="url(#gs)" opacity="0.10"/>
<circle cx="399" cy="190" r="5.99" fill="url(#gs)" opacity="0.40"/>
<circle cx="356" cy="236" r="5.99" fill="url(#gs)" opacity="0.12"/>
<circle cx="324" cy="180" r="5.99" fill="url(#gs)" opacity="0.08"/>
<circle cx="345" cy="201" r="5.99" fill="url(#gs)" opacity="0.10"/>
<circle cx="402.4" cy="136.5" r="6.38" fill="url(#gs)" opacity="0.90"/>
<circle cx="394" cy="141" r="6.12" fill="url(#gs)" opacity="0.70"/>
<circle cx="411" cy="141" r="5.05" fill="url(#gs)" opacity="0.55"/>
<circle cx="462" cy="139.5" r="5.32" fill="url(#gs)" opacity="0.55"/>
<circle cx="442.5" cy="133" r="5.99" fill="url(#gs)" opacity="0.30"/>
<circle cx="454.5" cy="145" r="5.99" fill="url(#gs)" opacity="0.20"/>
<circle cx="508.8" cy="149.5" r="5.72" fill="url(#gs)" opacity="0.55"/>
<circle cx="503.8" cy="159.5" r="6.38" fill="url(#gs)" opacity="0.45"/>
<circle cx="512" cy="168.8" r="5.72" fill="url(#gs)" opacity="0.45"/>
<circle cx="507.5" cy="178" r="6.92" fill="url(#gs)" opacity="0.90"/>
<circle cx="497" cy="206" r="6.38" fill="url(#gs)" opacity="0.90"/>
<circle cx="490" cy="213.8" r="7.32" fill="url(#gs)" opacity="0.60"/>
<circle cx="473.8" cy="207.5" r="5.99" fill="url(#gs)" opacity="0.30"/>
<circle cx="463.8" cy="208.8" r="5.99" fill="url(#gs)" opacity="0.22"/>
<circle cx="428.8" cy="225.5" r="6.92" fill="url(#gs)" opacity="0.85"/>
<circle cx="420.5" cy="228.8" r="5.99" fill="url(#gs)" opacity="0.30"/>
<circle cx="420" cy="240" r="6.38" fill="url(#gs)" opacity="0.65"/>
<circle cx="427.5" cy="190" r="5.99" fill="url(#gs)" opacity="0.10"/>
</g></g>
<text x="431" y="35" font-size="13.4" fill="#3fa83a">wildtype</text>
<rect x="473" y="241.2" width="38.3" height="1.6" fill="#fff"/>
<text x="492.3" y="233.8" font-size="13.2" fill="#fff" text-anchor="middle" letter-spacing="0.3">40 µm</text>
<circle cx="61.2" cy="385.0" r="1.8" fill="#c5168c"/>
<circle cx="61.2" cy="398.5" r="1.8" fill="#c5168c"/>
<circle cx="61.2" cy="400.2" r="1.8" fill="#c5168c"/>
<circle cx="106.6" cy="384.8" r="1.8" fill="#c5168c"/>
<circle cx="106.6" cy="394.6" r="1.8" fill="#c5168c"/>
<circle cx="136.9" cy="362.3" r="1.8" fill="#c5168c"/>
<circle cx="136.9" cy="382.2" r="1.8" fill="#c5168c"/>
<circle cx="167.1" cy="349.6" r="1.8" fill="#c5168c"/>
<circle cx="167.1" cy="351.3" r="1.8" fill="#c5168c"/>
<circle cx="212.5" cy="355.8" r="1.8" fill="#c5168c"/>
<circle cx="212.5" cy="385.0" r="1.8" fill="#c5168c"/>
<circle cx="242.8" cy="327.2" r="1.8" fill="#c5168c"/>
<circle cx="242.8" cy="383.4" r="1.8" fill="#c5168c"/>
<circle cx="273.0" cy="353.6" r="1.8" fill="#c5168c"/>
<circle cx="273.0" cy="382.2" r="1.8" fill="#c5168c"/>
<circle cx="61.2" cy="385.4" r="1.8" fill="#e8961e"/>
<circle cx="61.2" cy="396.3" r="1.8" fill="#e8961e"/>
<circle cx="61.2" cy="398.5" r="1.8" fill="#e8961e"/>
<circle cx="61.2" cy="400.2" r="1.8" fill="#e8961e"/>
<circle cx="106.6" cy="373.8" r="1.8" fill="#e8961e"/>
<circle cx="106.6" cy="376.1" r="1.8" fill="#e8961e"/>
<circle cx="106.6" cy="377.7" r="1.8" fill="#e8961e"/>
<circle cx="106.6" cy="387.3" r="1.8" fill="#e8961e"/>
<circle cx="136.9" cy="367.9" r="1.8" fill="#e8961e"/>
<circle cx="136.9" cy="383.4" r="1.8" fill="#e8961e"/>
<circle cx="136.9" cy="384.5" r="1.8" fill="#e8961e"/>
<circle cx="167.1" cy="364.8" r="1.8" fill="#e8961e"/>
<circle cx="167.1" cy="374.9" r="1.8" fill="#e8961e"/>
<circle cx="167.1" cy="377.7" r="1.8" fill="#e8961e"/>
<circle cx="167.1" cy="387.9" r="1.8" fill="#e8961e"/>
<circle cx="212.5" cy="362.0" r="1.8" fill="#e8961e"/>
<circle cx="212.5" cy="366.5" r="1.8" fill="#e8961e"/>
<circle cx="212.5" cy="369.9" r="1.8" fill="#e8961e"/>
<circle cx="212.5" cy="373.8" r="1.8" fill="#e8961e"/>
<circle cx="212.5" cy="386.2" r="1.8" fill="#e8961e"/>
<circle cx="242.8" cy="353.6" r="1.8" fill="#e8961e"/>
<circle cx="242.8" cy="359.2" r="1.8" fill="#e8961e"/>
<circle cx="242.8" cy="364.8" r="1.8" fill="#e8961e"/>
<circle cx="242.8" cy="368.7" r="1.8" fill="#e8961e"/>
<circle cx="242.8" cy="380.0" r="1.8" fill="#e8961e"/>
<circle cx="273.0" cy="365.4" r="1.8" fill="#e8961e"/>
<circle cx="273.0" cy="367.6" r="1.8" fill="#e8961e"/>
<circle cx="273.0" cy="369.3" r="1.8" fill="#e8961e"/>
<line x1="61.2" y1="394.6" x2="273.0" y2="354.5" stroke="#c5168c" stroke-width="2"/>
<line x1="61.2" y1="394.9" x2="273.0" y2="361.0" stroke="#e8961e" stroke-width="2"/>
<path d="M61.2 306.9V450.8H276.6" fill="none" stroke="#1a1a1a" stroke-width="1.6"/>
<line x1="56.6" y1="450.8" x2="61.2" y2="450.8" stroke="#1a1a1a" stroke-width="1.6"/>
<text transform="translate(52.6 454.5) scale(1.12 1)" font-size="10.4" fill="#1a1a1a" text-anchor="end" stroke="#1a1a1a" stroke-width="0.2">0.0</text>
<line x1="56.6" y1="422.7" x2="61.2" y2="422.7" stroke="#1a1a1a" stroke-width="1.6"/>
<text transform="translate(52.6 426.4) scale(1.12 1)" font-size="10.4" fill="#1a1a1a" text-anchor="end" stroke="#1a1a1a" stroke-width="0.2">0.5</text>
<line x1="56.6" y1="394.6" x2="61.2" y2="394.6" stroke="#1a1a1a" stroke-width="1.6"/>
<text transform="translate(52.6 398.3) scale(1.12 1)" font-size="10.4" fill="#1a1a1a" text-anchor="end" stroke="#1a1a1a" stroke-width="0.2">1.0</text>
<line x1="56.6" y1="366.5" x2="61.2" y2="366.5" stroke="#1a1a1a" stroke-width="1.6"/>
<text transform="translate(52.6 370.2) scale(1.12 1)" font-size="10.4" fill="#1a1a1a" text-anchor="end" stroke="#1a1a1a" stroke-width="0.2">1.5</text>
<line x1="56.6" y1="338.4" x2="61.2" y2="338.4" stroke="#1a1a1a" stroke-width="1.6"/>
<text transform="translate(52.6 342.1) scale(1.12 1)" font-size="10.4" fill="#1a1a1a" text-anchor="end" stroke="#1a1a1a" stroke-width="0.2">2.0</text>
<line x1="56.6" y1="310.3" x2="61.2" y2="310.3" stroke="#1a1a1a" stroke-width="1.6"/>
<text transform="translate(52.6 314.0) scale(1.12 1)" font-size="10.4" fill="#1a1a1a" text-anchor="end" stroke="#1a1a1a" stroke-width="0.2">2.5</text>
<line x1="61.2" y1="450.8" x2="61.2" y2="455.40000000000003" stroke="#1a1a1a" stroke-width="1.6"/>
<text transform="translate(61.2 469.8) scale(1.12 1)" font-size="10.4" fill="#1a1a1a" text-anchor="middle" stroke="#1a1a1a" stroke-width="0.2">0</text>
<line x1="91.5" y1="450.8" x2="91.5" y2="455.40000000000003" stroke="#1a1a1a" stroke-width="1.6"/>
<text transform="translate(91.5 469.8) scale(1.12 1)" font-size="10.4" fill="#1a1a1a" text-anchor="middle" stroke="#1a1a1a" stroke-width="0.2">2</text>
<line x1="121.7" y1="450.8" x2="121.7" y2="455.40000000000003" stroke="#1a1a1a" stroke-width="1.6"/>
<text transform="translate(121.7 469.8) scale(1.12 1)" font-size="10.4" fill="#1a1a1a" text-anchor="middle" stroke="#1a1a1a" stroke-width="0.2">4</text>
<line x1="152.0" y1="450.8" x2="152.0" y2="455.40000000000003" stroke="#1a1a1a" stroke-width="1.6"/>
<text transform="translate(152.0 469.8) scale(1.12 1)" font-size="10.4" fill="#1a1a1a" text-anchor="middle" stroke="#1a1a1a" stroke-width="0.2">6</text>
<line x1="182.2" y1="450.8" x2="182.2" y2="455.40000000000003" stroke="#1a1a1a" stroke-width="1.6"/>
<text transform="translate(182.2 469.8) scale(1.12 1)" font-size="10.4" fill="#1a1a1a" text-anchor="middle" stroke="#1a1a1a" stroke-width="0.2">8</text>
<line x1="212.5" y1="450.8" x2="212.5" y2="455.40000000000003" stroke="#1a1a1a" stroke-width="1.6"/>
<text transform="translate(212.5 469.8) scale(1.12 1)" font-size="10.4" fill="#1a1a1a" text-anchor="middle" stroke="#1a1a1a" stroke-width="0.2">10</text>
<line x1="242.8" y1="450.8" x2="242.8" y2="455.40000000000003" stroke="#1a1a1a" stroke-width="1.6"/>
<text transform="translate(242.8 469.8) scale(1.12 1)" font-size="10.4" fill="#1a1a1a" text-anchor="middle" stroke="#1a1a1a" stroke-width="0.2">12</text>
<line x1="273.0" y1="450.8" x2="273.0" y2="455.40000000000003" stroke="#1a1a1a" stroke-width="1.6"/>
<text transform="translate(273.0 469.8) scale(1.12 1)" font-size="10.4" fill="#1a1a1a" text-anchor="middle" stroke="#1a1a1a" stroke-width="0.2">14</text>
<text transform="translate(169.5 489.6) scale(0.73 1)" font-size="13.5" fill="#1a1a1a" text-anchor="middle" stroke="#1a1a1a" stroke-width="0.4">Days after transfusion</text>
<text transform="translate(28.9 378.3) rotate(-90) scale(0.70 1)" font-size="14.3" fill="#1a1a1a" text-anchor="middle" stroke="#1a1a1a" stroke-width="0.4">F/F<tspan font-size="10" dy="2.4">0</tspan><tspan dy="-2.4"> normalized</tspan></text>
<text transform="translate(113.5 430.6) scale(1.08 1)" font-size="9.9" fill="#262626" text-anchor="start" stroke="#262626" stroke-width="0.2">slopes:</text>
<text transform="translate(230.3 423.8) scale(1.08 1)" font-size="9.9" fill="#c5168c" text-anchor="end" stroke="#c5168c" stroke-width="0.2">PKH26: 0.051</text>
<text transform="translate(230.3 440.7) scale(1.08 1)" font-size="9.9" fill="#e8961e" text-anchor="end" stroke="#e8961e" stroke-width="0.2">tdRFP: 0.043</text>
<path d="M239.3 418.8H244.2V437.8H239.3" fill="none" stroke="#1a1a1a" stroke-width="1.3"/>
<text transform="translate(248.8 430.8) scale(1.08 1)" font-size="9.9" fill="#262626" text-anchor="start" stroke="#262626" stroke-width="0.2">ns</text>
<rect x="59.5" y="664.5" width="3.4" height="3.4" fill="#c9c9c9"/>
<rect x="59.5" y="667.3" width="3.4" height="3.4" fill="#c9c9c9"/>
<rect x="104.9" y="661.7" width="3.4" height="3.4" fill="#c9c9c9"/>
<rect x="104.9" y="665.6" width="3.4" height="3.4" fill="#c9c9c9"/>
<rect x="104.9" y="668.4" width="3.4" height="3.4" fill="#c9c9c9"/>
<rect x="135.2" y="658.9" width="3.4" height="3.4" fill="#c9c9c9"/>
<rect x="135.2" y="662.8" width="3.4" height="3.4" fill="#c9c9c9"/>
<rect x="135.2" y="665.1" width="3.4" height="3.4" fill="#c9c9c9"/>
<rect x="165.4" y="659.5" width="3.4" height="3.4" fill="#c9c9c9"/>
<rect x="165.4" y="663.4" width="3.4" height="3.4" fill="#c9c9c9"/>
<rect x="165.4" y="665.6" width="3.4" height="3.4" fill="#c9c9c9"/>
<rect x="210.8" y="632.5" width="3.4" height="3.4" fill="#c9c9c9"/>
<rect x="210.8" y="651.6" width="3.4" height="3.4" fill="#c9c9c9"/>
<rect x="210.8" y="656.1" width="3.4" height="3.4" fill="#c9c9c9"/>
<rect x="241.1" y="642.0" width="3.4" height="3.4" fill="#c9c9c9"/>
<rect x="241.1" y="646.0" width="3.4" height="3.4" fill="#c9c9c9"/>
<rect x="241.1" y="660.0" width="3.4" height="3.4" fill="#c9c9c9"/>
<rect x="271.3" y="638.1" width="3.4" height="3.4" fill="#c9c9c9"/>
<rect x="271.3" y="656.1" width="3.4" height="3.4" fill="#c9c9c9"/>
<line x1="61.2" y1="664.0" x2="273.0" y2="649.8" stroke="#c9c9c9" stroke-width="2"/>
<circle cx="61.2" cy="654.2" r="1.8" fill="#b5132f"/>
<circle cx="61.2" cy="665.1" r="1.8" fill="#b5132f"/>
<circle cx="61.2" cy="667.3" r="1.8" fill="#b5132f"/>
<circle cx="61.2" cy="669.0" r="1.8" fill="#b5132f"/>
<circle cx="106.6" cy="642.6" r="1.8" fill="#b5132f"/>
<circle cx="106.6" cy="644.9" r="1.8" fill="#b5132f"/>
<circle cx="106.6" cy="646.5" r="1.8" fill="#b5132f"/>
<circle cx="106.6" cy="656.1" r="1.8" fill="#b5132f"/>
<circle cx="136.9" cy="636.7" r="1.8" fill="#b5132f"/>
<circle cx="136.9" cy="652.2" r="1.8" fill="#b5132f"/>
<circle cx="136.9" cy="653.3" r="1.8" fill="#b5132f"/>
<circle cx="167.1" cy="633.6" r="1.8" fill="#b5132f"/>
<circle cx="167.1" cy="643.7" r="1.8" fill="#b5132f"/>
<circle cx="167.1" cy="646.5" r="1.8" fill="#b5132f"/>
<circle cx="167.1" cy="656.7" r="1.8" fill="#b5132f"/>
<circle cx="212.5" cy="630.8" r="1.8" fill="#b5132f"/>
<circle cx="212.5" cy="635.3" r="1.8" fill="#b5132f"/>
<circle cx="212.5" cy="638.7" r="1.8" fill="#b5132f"/>
<circle cx="212.5" cy="642.6" r="1.8" fill="#b5132f"/>
<circle cx="212.5" cy="655.0" r="1.8" fill="#b5132f"/>
<circle cx="242.8" cy="622.4" r="1.8" fill="#b5132f"/>
<circle cx="242.8" cy="628.0" r="1.8" fill="#b5132f"/>
<circle cx="242.8" cy="633.6" r="1.8" fill="#b5132f"/>
<circle cx="242.8" cy="637.5" r="1.8" fill="#b5132f"/>
<circle cx="242.8" cy="648.8" r="1.8" fill="#b5132f"/>
<circle cx="273.0" cy="634.2" r="1.8" fill="#b5132f"/>
<circle cx="273.0" cy="636.4" r="1.8" fill="#b5132f"/>
<circle cx="273.0" cy="638.1" r="1.8" fill="#b5132f"/>
<circle cx="61.2" cy="653.8" r="1.8" fill="#b5132f"/>
<circle cx="61.2" cy="667.3" r="1.8" fill="#b5132f"/>
<circle cx="61.2" cy="669.0" r="1.8" fill="#b5132f"/>
<circle cx="106.6" cy="653.6" r="1.8" fill="#b5132f"/>
<circle cx="106.6" cy="663.4" r="1.8" fill="#b5132f"/>
<circle cx="136.9" cy="631.1" r="1.8" fill="#b5132f"/>
<circle cx="136.9" cy="651.0" r="1.8" fill="#b5132f"/>
<circle cx="167.1" cy="618.4" r="1.8" fill="#b5132f"/>
<circle cx="167.1" cy="620.1" r="1.8" fill="#b5132f"/>
<circle cx="212.5" cy="624.6" r="1.8" fill="#b5132f"/>
<circle cx="212.5" cy="653.8" r="1.8" fill="#b5132f"/>
<circle cx="242.8" cy="596.0" r="1.8" fill="#b5132f"/>
<circle cx="242.8" cy="652.2" r="1.8" fill="#b5132f"/>
<circle cx="273.0" cy="622.4" r="1.8" fill="#b5132f"/>
<circle cx="273.0" cy="651.0" r="1.8" fill="#b5132f"/>
<line x1="61.2" y1="664.0" x2="273.0" y2="627.0" stroke="#b5132f" stroke-width="2"/>
<path d="M61.2 575.7V719.6H276.6" fill="none" stroke="#1a1a1a" stroke-width="1.6"/>
<line x1="56.6" y1="719.6" x2="61.2" y2="719.6" stroke="#1a1a1a" stroke-width="1.6"/>
<text transform="translate(52.6 723.3) scale(1.12 1)" font-size="10.4" fill="#1a1a1a" text-anchor="end" stroke="#1a1a1a" stroke-width="0.2">0.0</text>
<line x1="56.6" y1="691.5" x2="61.2" y2="691.5" stroke="#1a1a1a" stroke-width="1.6"/>
<text transform="translate(52.6 695.2) scale(1.12 1)" font-size="10.4" fill="#1a1a1a" text-anchor="end" stroke="#1a1a1a" stroke-width="0.2">0.5</text>
<line x1="56.6" y1="663.4" x2="61.2" y2="663.4" stroke="#1a1a1a" stroke-width="1.6"/>
<text transform="translate(52.6 667.1) scale(1.12 1)" font-size="10.4" fill="#1a1a1a" text-anchor="end" stroke="#1a1a1a" stroke-width="0.2">1.0</text>
<line x1="56.6" y1="635.3" x2="61.2" y2="635.3" stroke="#1a1a1a" stroke-width="1.6"/>
<text transform="translate(52.6 639.0) scale(1.12 1)" font-size="10.4" fill="#1a1a1a" text-anchor="end" stroke="#1a1a1a" stroke-width="0.2">1.5</text>
<line x1="56.6" y1="607.2" x2="61.2" y2="607.2" stroke="#1a1a1a" stroke-width="1.6"/>
<text transform="translate(52.6 610.9) scale(1.12 1)" font-size="10.4" fill="#1a1a1a" text-anchor="end" stroke="#1a1a1a" stroke-width="0.2">2.0</text>
<line x1="56.6" y1="579.1" x2="61.2" y2="579.1" stroke="#1a1a1a" stroke-width="1.6"/>
<text transform="translate(52.6 582.8) scale(1.12 1)" font-size="10.4" fill="#1a1a1a" text-anchor="end" stroke="#1a1a1a" stroke-width="0.2">2.5</text>
<line x1="61.2" y1="719.6" x2="61.2" y2="724.2" stroke="#1a1a1a" stroke-width="1.6"/>
<text transform="translate(61.2 738.6) scale(1.12 1)" font-size="10.4" fill="#1a1a1a" text-anchor="middle" stroke="#1a1a1a" stroke-width="0.2">0</text>
<line x1="91.5" y1="719.6" x2="91.5" y2="724.2" stroke="#1a1a1a" stroke-width="1.6"/>
<text transform="translate(91.5 738.6) scale(1.12 1)" font-size="10.4" fill="#1a1a1a" text-anchor="middle" stroke="#1a1a1a" stroke-width="0.2">2</text>
<line x1="121.7" y1="719.6" x2="121.7" y2="724.2" stroke="#1a1a1a" stroke-width="1.6"/>
<text transform="translate(121.7 738.6) scale(1.12 1)" font-size="10.4" fill="#1a1a1a" text-anchor="middle" stroke="#1a1a1a" stroke-width="0.2">4</text>
<line x1="152.0" y1="719.6" x2="152.0" y2="724.2" stroke="#1a1a1a" stroke-width="1.6"/>
<text transform="translate(152.0 738.6) scale(1.12 1)" font-size="10.4" fill="#1a1a1a" text-anchor="middle" stroke="#1a1a1a" stroke-width="0.2">6</text>
<line x1="182.2" y1="719.6" x2="182.2" y2="724.2" stroke="#1a1a1a" stroke-width="1.6"/>
<text transform="translate(182.2 738.6) scale(1.12 1)" font-size="10.4" fill="#1a1a1a" text-anchor="middle" stroke="#1a1a1a" stroke-width="0.2">8</text>
<line x1="212.5" y1="719.6" x2="212.5" y2="724.2" stroke="#1a1a1a" stroke-width="1.6"/>
<text transform="translate(212.5 738.6) scale(1.12 1)" font-size="10.4" fill="#1a1a1a" text-anchor="middle" stroke="#1a1a1a" stroke-width="0.2">10</text>
<line x1="242.8" y1="719.6" x2="242.8" y2="724.2" stroke="#1a1a1a" stroke-width="1.6"/>
<text transform="translate(242.8 738.6) scale(1.12 1)" font-size="10.4" fill="#1a1a1a" text-anchor="middle" stroke="#1a1a1a" stroke-width="0.2">12</text>
<line x1="273.0" y1="719.6" x2="273.0" y2="724.2" stroke="#1a1a1a" stroke-width="1.6"/>
<text transform="translate(273.0 738.6) scale(1.12 1)" font-size="10.4" fill="#1a1a1a" text-anchor="middle" stroke="#1a1a1a" stroke-width="0.2">14</text>
<text transform="translate(169.5 758.4) scale(0.73 1)" font-size="13.5" fill="#1a1a1a" text-anchor="middle" stroke="#1a1a1a" stroke-width="0.4">Days after transfusion</text>
<text transform="translate(28.9 647.1) rotate(-90) scale(0.70 1)" font-size="14.3" fill="#1a1a1a" text-anchor="middle" stroke="#1a1a1a" stroke-width="0.4">F/F<tspan font-size="10" dy="2.4">0</tspan><tspan dy="-2.4"> normalized</tspan></text>
<text transform="translate(87.4 699.3) scale(1.08 1)" font-size="9.9" fill="#262626" text-anchor="start" stroke="#262626" stroke-width="0.2">slopes:</text>
<text transform="translate(233.0 692.3) scale(1.08 1)" font-size="9.6" fill="#b5132f" text-anchor="end" stroke="#b5132f" stroke-width="0.2">untreated: 0.047</text>
<text transform="translate(233.0 706.3) scale(1.08 1)" font-size="9.6" fill="#c9c9c9" text-anchor="end" stroke="#c9c9c9" stroke-width="0.2">splenectomized: 0.018</text>
<path d="M238.6 687.3H243.6V705.7H238.6" fill="none" stroke="#1a1a1a" stroke-width="1.3"/>
<text transform="translate(256.5 698.45) scale(0.1)" font-size="58" font-family="'DejaVu Sans', sans-serif" fill="#1c1c1c" stroke="#1c1c1c" stroke-width="2.5" text-anchor="middle">★★★</text>
<rect x="361.2" y="402.3" width="25.8" height="49.0" fill="#c8102e"/>
<path d="M374.1 402.8V397.9M367.2 397.9H381.0" fill="none" stroke="#c8102e" stroke-width="1.6"/>
<text transform="translate(374.1 443.9) scale(1.08 1)" font-size="8.9" fill="#fff" text-anchor="middle">N = 7</text>
<line x1="374.1" y1="451.3" x2="374.1" y2="455.90000000000003" stroke="#1a1a1a" stroke-width="1.6"/>
<text transform="translate(379.6 463.3) rotate(-45)" font-size="11.3" fill="#1a1a1a" text-anchor="end" stroke="#1a1a1a" stroke-width="0.15">TRPC6 KO</text>
<rect x="400.8" y="392.5" width="25.8" height="58.8" fill="#17508a"/>
<path d="M413.7 393.0V385.6M406.8 385.6H420.6" fill="none" stroke="#17508a" stroke-width="1.6"/>
<text transform="translate(413.7 443.9) scale(1.08 1)" font-size="8.9" fill="#fff" text-anchor="middle">N = 7</text>
<line x1="413.7" y1="451.3" x2="413.7" y2="455.90000000000003" stroke="#1a1a1a" stroke-width="1.6"/>
<text transform="translate(419.2 463.3) rotate(-45)" font-size="11.3" fill="#1a1a1a" text-anchor="end" stroke="#1a1a1a" stroke-width="0.15">Day 3</text>
<rect x="440.3" y="383.2" width="25.8" height="68.1" fill="#17508a"/>
<path d="M453.2 383.7V372.9M446.3 372.9H460.1" fill="none" stroke="#17508a" stroke-width="1.6"/>
<text transform="translate(453.2 443.9) scale(1.08 1)" font-size="8.9" fill="#fff" text-anchor="middle">N = 7</text>
<line x1="453.2" y1="451.3" x2="453.2" y2="455.90000000000003" stroke="#1a1a1a" stroke-width="1.6"/>
<text transform="translate(458.7 463.3) rotate(-45)" font-size="11.3" fill="#1a1a1a" text-anchor="end" stroke="#1a1a1a" stroke-width="0.15">Day 10</text>
<rect x="479.9" y="386.1" width="25.8" height="65.2" fill="#3aaa35"/>
<path d="M492.8 386.6V380.2M485.9 380.2H499.6" fill="none" stroke="#3aaa35" stroke-width="1.6"/>
<text transform="translate(492.8 443.9) scale(1.08 1)" font-size="8.9" fill="#fff" text-anchor="middle">N = 7</text>
<line x1="492.8" y1="451.3" x2="492.8" y2="455.90000000000003" stroke="#1a1a1a" stroke-width="1.6"/>
<text transform="translate(498.2 463.3) rotate(-45)" font-size="11.3" fill="#1a1a1a" text-anchor="end" stroke="#1a1a1a" stroke-width="0.15">Wildtype</text>
<path d="M354.4 300.8V451.3" fill="none" stroke="#1a1a1a" stroke-width="1.6"/>
<line x1="349.79999999999995" y1="451.3" x2="512.2" y2="451.3" stroke="#1a1a1a" stroke-width="1.6"/>
<line x1="349.79999999999995" y1="451.3" x2="354.4" y2="451.3" stroke="#1a1a1a" stroke-width="1.6"/>
<text transform="translate(345.4 455.0) scale(1.12 1)" font-size="10.4" fill="#1a1a1a" text-anchor="end" stroke="#1a1a1a" stroke-width="0.2">0</text>
<line x1="349.79999999999995" y1="402.3" x2="354.4" y2="402.3" stroke="#1a1a1a" stroke-width="1.6"/>
<text transform="translate(345.4 406.0) scale(1.12 1)" font-size="10.4" fill="#1a1a1a" text-anchor="end" stroke="#1a1a1a" stroke-width="0.2">1</text>
<line x1="349.79999999999995" y1="353.3" x2="354.4" y2="353.3" stroke="#1a1a1a" stroke-width="1.6"/>
<text transform="translate(345.4 357.0) scale(1.12 1)" font-size="10.4" fill="#1a1a1a" text-anchor="end" stroke="#1a1a1a" stroke-width="0.2">2</text>
<line x1="349.79999999999995" y1="304.3" x2="354.4" y2="304.3" stroke="#1a1a1a" stroke-width="1.6"/>
<text transform="translate(345.4 308.0) scale(1.12 1)" font-size="10.4" fill="#1a1a1a" text-anchor="end" stroke="#1a1a1a" stroke-width="0.2">3</text>
<text transform="translate(433.2 522.9) scale(0.72 1)" font-size="13.5" fill="#1a1a1a" text-anchor="middle" stroke="#1a1a1a" stroke-width="0.4">After transfusion</text>
<text transform="translate(331.2 375.8) rotate(-90) scale(0.70 1)" font-size="14.3" fill="#1a1a1a" text-anchor="middle" stroke="#1a1a1a" stroke-width="0.4">F/F<tspan font-size="10" dy="2.4">0</tspan><tspan dy="-2.4"> normalized</tspan></text>
<line x1="373.6" y1="303.9" x2="493.1" y2="303.9" stroke="#1a1a1a" stroke-width="1.5"/>
<text transform="translate(433.1 298.05) scale(0.1)" font-size="58" font-family="'DejaVu Sans', sans-serif" fill="#1c1c1c" stroke="#1c1c1c" stroke-width="2.5" text-anchor="middle">★★★</text>
<line x1="413.2" y1="323.8" x2="493.1" y2="323.8" stroke="#1a1a1a" stroke-width="1.5"/>
<text transform="translate(453.2 318.9) scale(1.0 1)" font-size="10.6" fill="#262626" text-anchor="middle" stroke="#262626" stroke-width="0.2">ns</text>
<line x1="373.6" y1="342.2" x2="453.5" y2="342.2" stroke="#1a1a1a" stroke-width="1.5"/>
<text transform="translate(413.4 336.35) scale(0.1)" font-size="58" font-family="'DejaVu Sans', sans-serif" fill="#1c1c1c" stroke="#1c1c1c" stroke-width="2.5" text-anchor="middle">★★★★</text>
<line x1="373.6" y1="361.9" x2="412.4" y2="361.9" stroke="#1a1a1a" stroke-width="1.5"/>
<text transform="translate(392.5 356.05) scale(0.1)" font-size="58" font-family="'DejaVu Sans', sans-serif" fill="#1c1c1c" stroke="#1c1c1c" stroke-width="2.5" text-anchor="middle">★</text>
<line x1="414.8" y1="361.9" x2="451.9" y2="361.9" stroke="#1a1a1a" stroke-width="1.5"/>
<text transform="translate(433.4 357.0) scale(1.0 1)" font-size="10.6" fill="#262626" text-anchor="middle" stroke="#262626" stroke-width="0.2">ns</text>
<line x1="454.3" y1="361.9" x2="493.1" y2="361.9" stroke="#1a1a1a" stroke-width="1.5"/>
<text transform="translate(473.0 357.0) scale(1.0 1)" font-size="10.6" fill="#262626" text-anchor="middle" stroke="#262626" stroke-width="0.2">ns</text>
<rect x="359.3" y="670.9" width="25.8" height="48.7" fill="#c8102e"/>
<path d="M372.2 671.4V669.2M365.3 669.2H379.1" fill="none" stroke="#c8102e" stroke-width="1.6"/>
<text transform="translate(372.2 712.2) scale(1.08 1)" font-size="8.9" fill="#fff" text-anchor="middle">N = 4</text>
<line x1="372.2" y1="719.6" x2="372.2" y2="724.2" stroke="#1a1a1a" stroke-width="1.6"/>
<text transform="translate(377.7 731.6) rotate(-45)" font-size="11.3" fill="#1a1a1a" text-anchor="end" stroke="#1a1a1a" stroke-width="0.15">TRPC6 KO</text>
<rect x="398.9" y="673.5" width="25.8" height="46.1" fill="#17508a"/>
<path d="M411.8 674.0V671.0M404.9 671.0H418.7" fill="none" stroke="#17508a" stroke-width="1.6"/>
<text transform="translate(411.8 712.2) scale(1.08 1)" font-size="8.9" fill="#fff" text-anchor="middle">N = 4</text>
<line x1="411.8" y1="719.6" x2="411.8" y2="724.2" stroke="#1a1a1a" stroke-width="1.6"/>
<text transform="translate(417.3 731.6) rotate(-45)" font-size="11.3" fill="#1a1a1a" text-anchor="end" stroke="#1a1a1a" stroke-width="0.15">Day 3</text>
<rect x="438.4" y="657.3" width="25.8" height="62.3" fill="#17508a"/>
<path d="M451.3 657.8V649.2M444.4 649.2H458.2" fill="none" stroke="#17508a" stroke-width="1.6"/>
<text transform="translate(451.3 712.2) scale(1.08 1)" font-size="8.9" fill="#fff" text-anchor="middle">N = 4</text>
<line x1="451.3" y1="719.6" x2="451.3" y2="724.2" stroke="#1a1a1a" stroke-width="1.6"/>
<text transform="translate(456.8 731.6) rotate(-45)" font-size="11.3" fill="#1a1a1a" text-anchor="end" stroke="#1a1a1a" stroke-width="0.15">Day 14</text>
<rect x="478.0" y="658.0" width="25.8" height="61.6" fill="#3aaa35"/>
<path d="M490.9 658.5V654.6M484.0 654.6H497.8" fill="none" stroke="#3aaa35" stroke-width="1.6"/>
<text transform="translate(490.9 712.2) scale(1.08 1)" font-size="8.9" fill="#fff" text-anchor="middle">N = 4</text>
<line x1="490.9" y1="719.6" x2="490.9" y2="724.2" stroke="#1a1a1a" stroke-width="1.6"/>
<text transform="translate(496.4 731.6) rotate(-45)" font-size="11.3" fill="#1a1a1a" text-anchor="end" stroke="#1a1a1a" stroke-width="0.15">Wildtype</text>
<path d="M352.5 570.0V719.6" fill="none" stroke="#1a1a1a" stroke-width="1.6"/>
<line x1="347.9" y1="719.6" x2="510.4" y2="719.6" stroke="#1a1a1a" stroke-width="1.6"/>
<line x1="347.9" y1="719.6" x2="352.5" y2="719.6" stroke="#1a1a1a" stroke-width="1.6"/>
<text transform="translate(343.5 723.3) scale(1.12 1)" font-size="10.4" fill="#1a1a1a" text-anchor="end" stroke="#1a1a1a" stroke-width="0.2">0</text>
<line x1="347.9" y1="670.9" x2="352.5" y2="670.9" stroke="#1a1a1a" stroke-width="1.6"/>
<text transform="translate(343.5 674.6) scale(1.12 1)" font-size="10.4" fill="#1a1a1a" text-anchor="end" stroke="#1a1a1a" stroke-width="0.2">1</text>
<line x1="347.9" y1="622.2" x2="352.5" y2="622.2" stroke="#1a1a1a" stroke-width="1.6"/>
<text transform="translate(343.5 625.9) scale(1.12 1)" font-size="10.4" fill="#1a1a1a" text-anchor="end" stroke="#1a1a1a" stroke-width="0.2">2</text>
<line x1="347.9" y1="573.5" x2="352.5" y2="573.5" stroke="#1a1a1a" stroke-width="1.6"/>
<text transform="translate(343.5 577.2) scale(1.12 1)" font-size="10.4" fill="#1a1a1a" text-anchor="end" stroke="#1a1a1a" stroke-width="0.2">3</text>
<text transform="translate(431.3 791.2) scale(0.72 1)" font-size="13.5" fill="#1a1a1a" text-anchor="middle" stroke="#1a1a1a" stroke-width="0.4">After transfusion</text>
<text transform="translate(329.3 644.6) rotate(-90) scale(0.70 1)" font-size="14.3" fill="#1a1a1a" text-anchor="middle" stroke="#1a1a1a" stroke-width="0.4">F/F<tspan font-size="10" dy="2.4">0</tspan><tspan dy="-2.4"> normalized</tspan></text>
<line x1="371.7" y1="582.8" x2="491.2" y2="582.8" stroke="#1a1a1a" stroke-width="1.5"/>
<text transform="translate(431.2 576.95) scale(0.1)" font-size="58" font-family="'DejaVu Sans', sans-serif" fill="#1c1c1c" stroke="#1c1c1c" stroke-width="2.5" text-anchor="middle">★★</text>
<line x1="411.3" y1="601" x2="491.2" y2="601" stroke="#1a1a1a" stroke-width="1.5"/>
<text transform="translate(451.0 595.15) scale(0.1)" font-size="58" font-family="'DejaVu Sans', sans-serif" fill="#1c1c1c" stroke="#1c1c1c" stroke-width="2.5" text-anchor="middle">★★</text>
<line x1="371.7" y1="619.3" x2="451.6" y2="619.3" stroke="#1a1a1a" stroke-width="1.5"/>
<text transform="translate(411.5 613.45) scale(0.1)" font-size="58" font-family="'DejaVu Sans', sans-serif" fill="#1c1c1c" stroke="#1c1c1c" stroke-width="2.5" text-anchor="middle">★★</text>
<line x1="371.7" y1="639.2" x2="410.5" y2="639.2" stroke="#1a1a1a" stroke-width="1.5"/>
<text transform="translate(392.0 634.3) scale(1.0 1)" font-size="10.6" fill="#262626" text-anchor="middle" stroke="#262626" stroke-width="0.2">ns</text>
<line x1="412.9" y1="639.2" x2="450.0" y2="639.2" stroke="#1a1a1a" stroke-width="1.5"/>
<text transform="translate(431.2 633.35) scale(0.1)" font-size="58" font-family="'DejaVu Sans', sans-serif" fill="#1c1c1c" stroke="#1c1c1c" stroke-width="2.5" text-anchor="middle">★★</text>
<line x1="452.4" y1="639.2" x2="491.2" y2="639.2" stroke="#1a1a1a" stroke-width="1.5"/>
<text transform="translate(471.1 634.3) scale(1.0 1)" font-size="10.6" fill="#262626" text-anchor="middle" stroke="#262626" stroke-width="0.2">ns</text>
</svg></body></html>
